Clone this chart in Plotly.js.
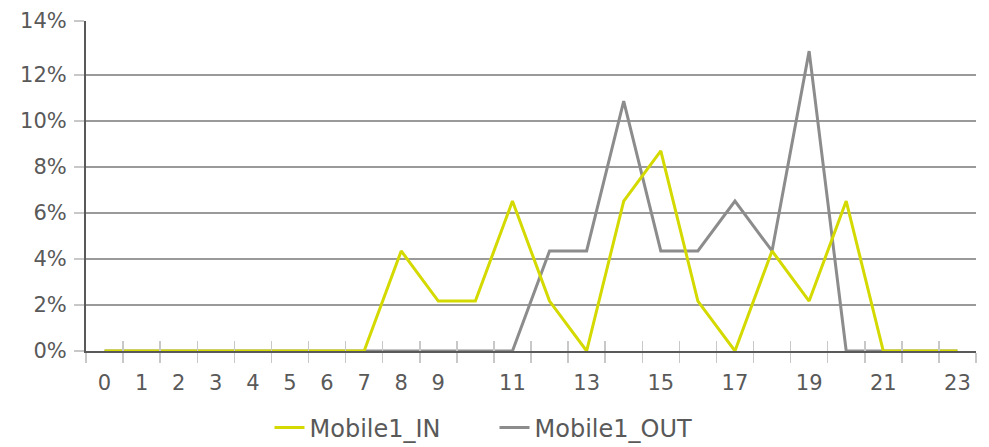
<!DOCTYPE html>
<html>
<head>
<meta charset="utf-8">
<script src="https://cdn.plot.ly/plotly-3.0.1.min.js"></script>
<style>html,body{margin:0;padding:0;background:#fff;}#chart{width:989px;height:447px;}</style>
</head>
<body>
<div id="chart"></div>
<script>
const hours = [0,1,2,3,4,5,6,7,8,9,10,11,12,13,14,15,16,17,18,19,20,21,22,23];
const mobileIn  = [0,0,0,0,0,0,0,0,4.35,2.17,2.17,6.52,2.17,0,6.52,8.7,2.17,0,4.35,2.17,6.52,0,0,0];
const mobileOut = [0,0,0,0,0,0,0,0,0,0,0,0,4.35,4.35,10.87,4.35,4.35,6.52,4.35,13.04,0,0,0,0];
const xLabelVals = [0,1,2,3,4,5,6,7,8,9,11,13,15,17,19,21,23];
const xLabelText = ['0','1','2','3','4','5','6','7','8','9','11','13','15','17','19','21','23'];
const xBoundaries = [-0.5,0.5,1.5,2.5,3.5,4.5,5.5,6.5,7.5,8.5,9.5,10.5,11.5,12.5,13.5,14.5,15.5,16.5,17.5,18.5,19.5,20.5,21.5,22.5,23.5];
const yTickVals = [0,2,4,6,8,10,12,14.35];
const yTickText = ['0%','2%','4%','6%','8%','10%','12%','14%'];
const yMax = 14.35;

const FONT = 'DejaVu Sans';
const traces = [
  {x: hours, y: mobileOut, name: 'Mobile1_OUT', type: 'scatter', mode: 'lines',
   line: {color: '#8c8c8c', width: 3}, xaxis: 'x', yaxis: 'y', hoverinfo: 'none'},
  {x: hours, y: mobileIn, name: 'Mobile1_IN', type: 'scatter', mode: 'lines',
   line: {color: '#d4da00', width: 3}, xaxis: 'x2', yaxis: 'y', hoverinfo: 'none'}
];
const layout = {
  width: 989, height: 447,
  margin: {l: 86, r: 13, t: 21, b: 96},
  paper_bgcolor: '#fff', plot_bgcolor: '#fff',
  font: {family: FONT, size: 21, color: '#595959'},
  showlegend: true,
  legend: {orientation: 'h', x: 0.5, xanchor: 'center', xref: 'container',
           y: 0.043, yanchor: 'middle', yref: 'container',
           traceorder: 'reversed', entrywidth: 180, itemwidth: 30,
           font: {family: FONT, size: 24, color: '#595959'}},
  xaxis: {
    range: [-0.5, 23.5], tickmode: 'array', tickvals: xLabelVals, ticktext: xLabelText,
    ticks: 'outside', ticklen: 12, tickcolor: 'rgba(0,0,0,0)',
    showgrid: false, zeroline: false, showline: true, linecolor: '#595959', linewidth: 2,
    layer: 'below traces', tickfont: {family: FONT, size: 21, color: '#595959'},
    minor: {tickmode: 'array', tickvals: xBoundaries, ticks: 'outside', ticklen: 10,
            tickcolor: '#c8c8c8', tickwidth: 1.5, showgrid: false},
    fixedrange: true
  },
  xaxis2: {
    overlaying: 'x', anchor: 'y', range: [-0.5, 23.5], tickmode: 'array', tickvals: xBoundaries,
    ticks: 'inside', ticklen: 10, tickcolor: '#c8c8c8', tickwidth: 1.5,
    showticklabels: false, showgrid: false, zeroline: false, showline: false, fixedrange: true
  },
  yaxis: {
    range: [0, yMax], tickmode: 'array', tickvals: yTickVals, ticktext: yTickText,
    ticks: 'outside', ticklen: 10, tickcolor: '#c8c8c8', tickwidth: 1.5,
    showgrid: true, gridcolor: '#9a9a9a', gridwidth: 1.5, zeroline: false,
    showline: true, linecolor: '#595959', linewidth: 2, ticklabelstandoff: 3,
    tickfont: {family: FONT, size: 21, color: '#595959'}, fixedrange: true
  }
};
Plotly.newPlot('chart', traces, layout, {displayModeBar: false, staticPlot: true});
</script>
</body>
</html>
